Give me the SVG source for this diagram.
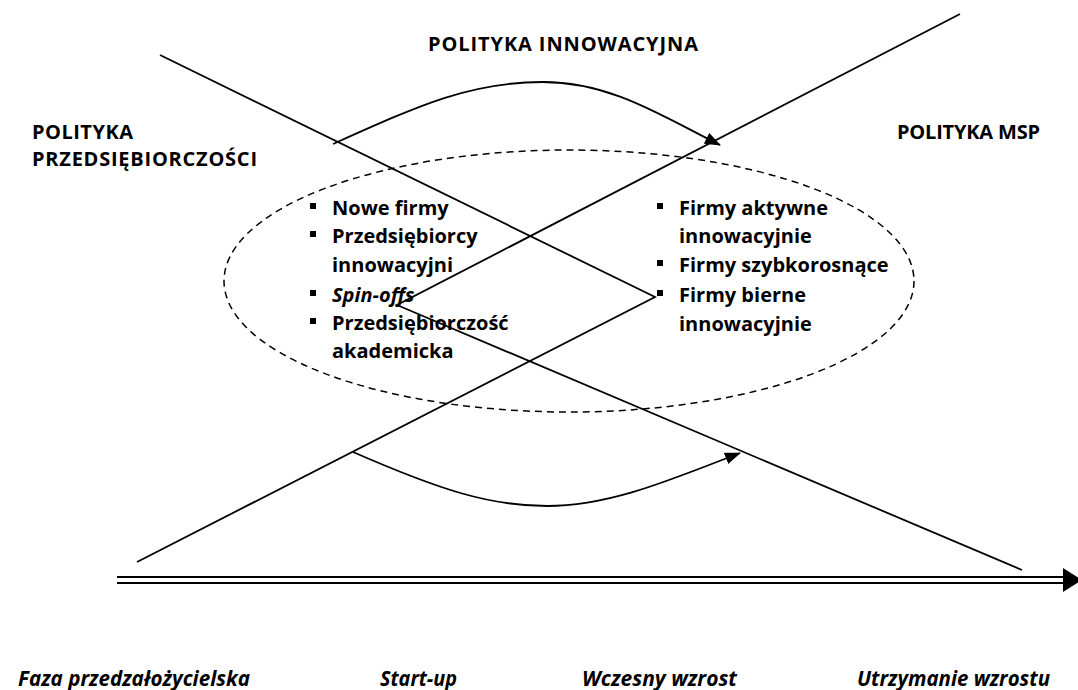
<svg xmlns="http://www.w3.org/2000/svg" width="1078" height="690" viewBox="0 0 1078 690">
<style>
.t{font-family:"Open Sans","Noto Sans",sans-serif;font-weight:700;font-size:20px;fill:#000}
.i{font-family:"Open Sans","Noto Sans",sans-serif;font-weight:700;font-style:italic;font-size:20px;fill:#000}
.p{font-family:"Open Sans","Noto Sans",sans-serif;font-weight:700;font-style:italic;font-size:21px;fill:#000}
.ln{stroke:#000;stroke-width:1.8;fill:none}
.b{fill:#000}
</style>
<defs>
<marker id="ah" markerWidth="16" markerHeight="12" refX="15" refY="6" orient="auto" markerUnits="userSpaceOnUse">
<path d="M0,0 L16,6 L0,12 Z" fill="#000"/>
</marker>
</defs>
<rect width="1078" height="690" fill="#fff"/>
<g id="connectors">
<polyline class="ln" points="160,55 655,297 137,562"/>
<polyline class="ln" points="960,14 397,305 1022,570"/>
<path class="ln" d="M333,144 C420,105 470,82 543,82 C610,82 660,115 720,145" marker-end="url(#ah)"/>
<path class="ln" d="M353,452 C440,490 490,506 547,506 C610,506 670,480 740,453" marker-end="url(#ah)"/>
</g>
<g id="ellipse">
<ellipse cx="569" cy="281" rx="345" ry="131" fill="none" stroke="#000" stroke-width="1.5" stroke-dasharray="7,5"/>
</g>
<g id="timeline">
<line x1="117" y1="577" x2="1064" y2="577" stroke="#000" stroke-width="2.2"/>
<line x1="117" y1="583" x2="1064" y2="583" stroke="#000" stroke-width="2.2"/>
<path d="M1063,568 L1082,580 L1063,592 Z" fill="#000"/>
</g>
<g id="label-innowacyjna"><text class="t" x="428" y="51" textLength="270" lengthAdjust="spacing">POLITYKA INNOWACYJNA</text></g>
<g id="label-przedsiebiorczosci"><text class="t" x="32" y="139" textLength="101" lengthAdjust="spacing">POLITYKA</text><text class="t" x="32" y="166" textLength="225" lengthAdjust="spacing">PRZEDSIĘBIORCZOŚCI</text></g>
<g id="label-msp"><text class="t" x="897" y="139" textLength="143" lengthAdjust="spacing">POLITYKA MSP</text></g>
<g id="list-left">
<rect class="b" x="310" y="203" width="6" height="6"/><text class="t" x="332" y="215">Nowe firmy</text>
<rect class="b" x="310" y="231" width="6" height="6"/><text class="t" x="332" y="243">Przedsiębiorcy</text>
<text class="t" x="332" y="272">innowacyjni</text>
<rect class="b" x="310" y="290" width="6" height="6"/><text class="i" x="332" y="302">Spin-offs</text>
<rect class="b" x="310" y="318" width="6" height="6"/><text class="t" x="332" y="330">Przedsiębiorczość</text>
<text class="t" x="332" y="358">akademicka</text>
</g>
<g id="list-right">
<rect class="b" x="657" y="203" width="6" height="6"/><text class="t" x="679" y="215">Firmy aktywne</text>
<text class="t" x="679" y="243">innowacyjnie</text>
<rect class="b" x="657" y="260" width="6" height="6"/><text class="t" x="679" y="272">Firmy szybkorosnące</text>
<rect class="b" x="657" y="290" width="6" height="6"/><text class="t" x="679" y="302">Firmy bierne</text>
<text class="t" x="679" y="331">innowacyjnie</text>
</g>
<g id="phases">
<text class="p" x="18" y="686" textLength="232" lengthAdjust="spacingAndGlyphs">Faza przedzałożycielska</text>
<text class="p" x="380" y="686" textLength="77" lengthAdjust="spacingAndGlyphs">Start-up</text>
<text class="p" x="582" y="686" textLength="155" lengthAdjust="spacingAndGlyphs">Wczesny wzrost</text>
<text class="p" x="857" y="686" textLength="193" lengthAdjust="spacingAndGlyphs">Utrzymanie wzrostu</text>
</g>
</svg>
